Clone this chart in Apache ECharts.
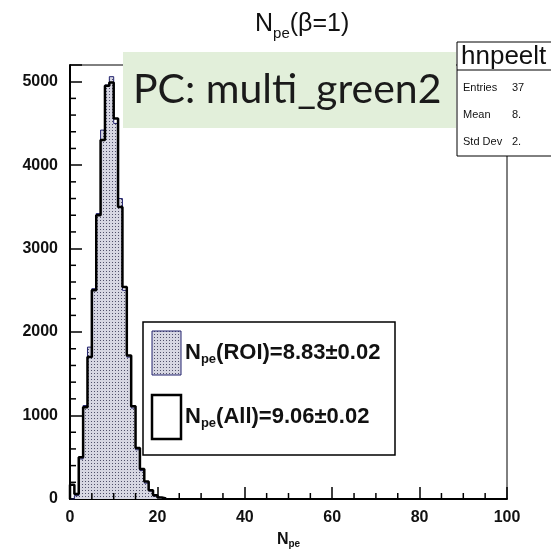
<!DOCTYPE html>
<html>
<head>
<meta charset="utf-8">
<script src="https://cdn.jsdelivr.net/npm/echarts@6/dist/echarts.min.js"></script>
<style>
  html, body { margin: 0; padding: 0; background: #fff; }
  #chart { width: 551px; height: 554px; }
</style>
</head>
<body>
<div id="chart"></div>
<script>
// bin lower edges (width 1), N_pe
const binEdges = [0, 1, 2, 3, 4, 5, 6, 7, 8, 9, 10, 11, 12, 13, 14, 15, 16, 17, 18, 19, 20, 21];
// counts per bin
const roiCounts = [0, 40, 480, 1120, 1820, 2520, 3420, 4420, 4960, 5060, 4500, 3600, 2500, 1700, 1090, 590, 340, 190, 95, 35, 12, 4];
const allCounts = [170, 60, 500, 1100, 1700, 2500, 3400, 4300, 4950, 4990, 4560, 3500, 2540, 1720, 1110, 610, 360, 210, 105, 45, 18, 6];
const xStep = 20;
const yStep = 1000;
// minor tick positions
const xMinor = [5, 10, 15, 25, 30, 35, 45, 50, 55, 65, 70, 75, 85, 90, 95];
const yMinor = [200, 400, 600, 800, 1200, 1400, 1600, 1800, 2200, 2400, 2600, 2800, 3200, 3400, 3600, 3800, 4200, 4400, 4600, 4800];
const statsRows = [['Entries', '37'], ['Mean', '8.'], ['Std Dev', '2.']];
const legendRows = ['{b|N}{s|pe}{b|(ROI)=8.83±0.02}', '{b|N}{s|pe}{b|(All)=9.06±0.02}'];

const toSteps = (counts) => {
    const pts = [[binEdges[0], 0]];
    counts.forEach((v, i) => pts.push([binEdges[i], v]));
    pts.push([binEdges[binEdges.length - 1] + 1, 0]);
    return pts;
};

// dotted fill like ROOT fill style
const pat = document.createElement('canvas');
pat.width = 3; pat.height = 3;
const pctx = pat.getContext('2d');
pctx.fillStyle = '#d6d6e2';
pctx.fillRect(0, 0, 3, 3);
pctx.fillStyle = '#50506a';
pctx.fillRect(1, 1, 1, 1);

const font = 'Liberation Sans, Helvetica, Arial, sans-serif';
const chart = echarts.init(document.getElementById('chart'));

// x minor ticks flagged 0, y minor ticks flagged 1
const minorData = xMinor.map(v => [v, 0, 0]).concat(yMinor.map(v => [0, v, 1]));

const option = {
    animation: false,
    title: {
        text: '{a|N}{s|pe}{a|(β=1)}',
        left: 250,
        top: 2,
        textStyle: {
            rich: {
                a: { fontFamily: font, fontWeight: 'normal', fontSize: 25, color: '#111', lineHeight: 30, verticalAlign: 'bottom' },
                s: { fontFamily: font, fontWeight: 'normal', fontSize: 15, color: '#111', lineHeight: 30, verticalAlign: 'bottom', padding: [0, 0, -4, 0] }
            }
        }
    },
    grid: { left: 70, right: 44, top: 65, bottom: 46, show: true, borderColor: '#000', borderWidth: 1 },
    xAxis: {
        type: 'value', min: 0, max: 100, interval: xStep,
        name: '{b|N}{s|pe}',
        nameLocation: 'middle', nameGap: 32,
        nameTextStyle: {
            rich: {
                b: { fontFamily: font, fontWeight: 'bold', fontSize: 16, color: '#111' },
                s: { fontFamily: font, fontWeight: 'bold', fontSize: 10, color: '#111', padding: [8, 0, 0, 0] }
            }
        },
        axisLine: { lineStyle: { color: '#000', width: 2 } },
        axisTick: { show: true, inside: true, length: 12, lineStyle: { color: '#000', width: 1.5 } },
        axisLabel: { margin: 11, fontFamily: font, fontWeight: 'bold', fontSize: 16, color: '#111' },
        splitLine: { show: false }
    },
    yAxis: {
        type: 'value', min: 0, max: 5200, interval: yStep,
        axisLine: { show: true, lineStyle: { color: '#000', width: 2 } },
        axisTick: { show: true, inside: true, length: 12, lineStyle: { color: '#000', width: 1.5 } },
        axisLabel: {
            margin: 12, fontFamily: font, fontWeight: 'bold', fontSize: 16, color: '#111',
            formatter: v => (v % yStep === 0 ? String(v) : '')
        },
        splitLine: { show: false }
    },
    series: [
        {
            name: 'ROI', type: 'line', step: 'end', symbol: 'none',
            data: toSteps(roiCounts),
            lineStyle: { color: '#22226e', width: 1 },
            areaStyle: { color: { image: pat, repeat: 'repeat' }, opacity: 1 },
            z: 2
        },
        {
            name: 'All', type: 'line', step: 'end', symbol: 'none',
            data: toSteps(allCounts),
            lineStyle: { color: '#000', width: 2.5 },
            z: 3
        },
        {
            name: 'minor ticks', type: 'custom', silent: true, z: 4,
            encode: { x: 0, y: 1 },
            data: minorData,
            renderItem: (params, api) => {
                const p = api.coord([api.value(0), api.value(1)]);
                const onX = api.value(2) === 0;
                return {
                    type: 'line',
                    shape: onX
                        ? { x1: p[0], y1: p[1], x2: p[0], y2: p[1] - 6 }
                        : { x1: p[0], y1: p[1], x2: p[0] + 6, y2: p[1] },
                    style: { stroke: '#000', lineWidth: 1.5 }
                };
            }
        }
    ],
    graphic: [
        // slide overlay
        { type: 'rect', shape: { x: 123, y: 52, width: 333, height: 76 }, style: { fill: '#e2efda' }, z: 10 },
        { type: 'text', x: 133, y: 90, style: { text: 'PC: multi_green2', font: '41px Lato, sans-serif', fill: '#1a1a1a', verticalAlign: 'middle' }, z: 11 },
        // stats box
        { type: 'rect', shape: { x: 457, y: 42, width: 120, height: 114 }, style: { fill: '#fff', stroke: '#000', lineWidth: 1 }, z: 10 },
        { type: 'line', shape: { x1: 457, y1: 70, x2: 560, y2: 70 }, style: { stroke: '#000', lineWidth: 1 }, z: 11 },
        { type: 'text', x: 461, y: 57, style: { text: 'hnpeelt', font: '26px ' + font, fill: '#111', verticalAlign: 'middle' }, z: 11 },
        ...statsRows.flatMap((r, i) => [
            { type: 'text', x: 463, y: 88 + i * 27, style: { text: r[0], font: '11px ' + font, fill: '#111', verticalAlign: 'middle' }, z: 11 },
            { type: 'text', x: 512, y: 88 + i * 27, style: { text: r[1], font: '11px ' + font, fill: '#111', verticalAlign: 'middle' }, z: 11 }
        ]),
        // legend
        { type: 'rect', shape: { x: 143, y: 322, width: 252, height: 133 }, style: { fill: '#fff', stroke: '#000', lineWidth: 1.5 }, z: 10 },
        { type: 'rect', shape: { x: 152, y: 331, width: 29, height: 44 }, style: { fill: { image: pat, repeat: 'repeat' }, stroke: '#22226e', lineWidth: 1 }, z: 11 },
        { type: 'rect', shape: { x: 152, y: 395, width: 29, height: 44 }, style: { fill: '#fff', stroke: '#000', lineWidth: 2.5 }, z: 11 },
        ...legendRows.map((t, i) => ({
            type: 'text', x: 185, y: 353 + i * 64,
            style: {
                text: t, verticalAlign: 'middle',
                rich: {
                    b: { fontFamily: font, fontWeight: 'bold', fontSize: 22, fill: '#111' },
                    s: { fontFamily: font, fontWeight: 'bold', fontSize: 13, fill: '#111', padding: [12, 0, 0, 0] }
                }
            },
            z: 11
        }))
    ]
};

chart.setOption(option);
</script>
</body>
</html>
